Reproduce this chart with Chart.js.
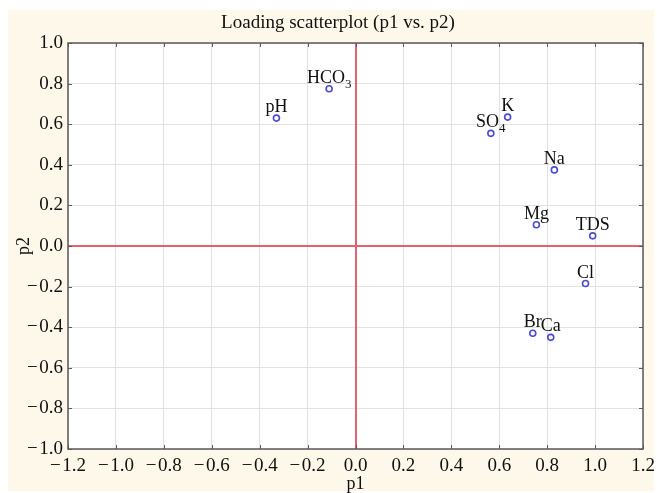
<!DOCTYPE html>
<html>
<head>
<meta charset="utf-8">
<title>Loading scatterplot (p1 vs. p2)</title>
<script src="https://cdn.jsdelivr.net/npm/chart.js@4.4.1/dist/chart.umd.min.js"></script>
<style>
  html, body { margin: 0; padding: 0; background: #ffffff; }
  #wrap { width: 657px; height: 493px; position: relative; }
</style>
</head>
<body>
<div id="wrap"><canvas id="myChart"></canvas></div>
<script>
// variable names + their loadings on the first two components
const names = ['pH', 'HCO', 'SO', 'K', 'Na', 'Mg', 'TDS', 'Cl', 'Br', 'Ca'];
const subs = ['', '3', '4', '', '', '', '', '', '', ''];
const p1 = [-0.33, -0.11, 0.565, 0.635, 0.83, 0.755, 0.99, 0.96, 0.74, 0.815];
const p2 = [0.63, 0.775, 0.555, 0.635, 0.375, 0.105, 0.05, -0.185, -0.43, -0.45];

const xTicks = [-1.2, -1.0, -0.8, -0.6, -0.4, -0.2, 0.0, 0.2, 0.4, 0.6, 0.8, 1.0, 1.2];
const yTicks = [-1.0, -0.8, -0.6, -0.4, -0.2, 0.0, 0.2, 0.4, 0.6, 0.8, 1.0];

const titleText = 'Loading scatterplot (p1 vs. p2)';
const serif = "'Liberation Serif', 'Times New Roman', serif";

function fmt(v) {
  if (Math.abs(v) < 1e-9) return '0.0';
  const s = Math.abs(v).toFixed(1);
  return v < 0 ? '\u2212\u200a' + s : s;
}

const points = p1.map(function(x, i) { return { x: x, y: p2[i] }; });

// cream page, white plot area
const backdrop = {
  id: 'backdrop',
  beforeDraw(chart) {
    const ctx = chart.ctx;
    const a = chart.chartArea;
    ctx.save();
    ctx.fillStyle = '#ffffff';
    ctx.fillRect(0, 0, chart.width, chart.height);
    ctx.fillStyle = '#fdf8ea';
    ctx.fillRect(8, 10, 646, 481);
    ctx.fillStyle = '#ffffff';
    ctx.fillRect(a.left, a.top, a.right - a.left, a.bottom - a.top);
    ctx.restore();
  },
  beforeDatasetsDraw(chart) {
    const ctx = chart.ctx;
    const a = chart.chartArea;
    const xs = chart.scales.x;
    const ys = chart.scales.y;
    ctx.save();
    // zero lines
    ctx.strokeStyle = 'rgba(228, 70, 90, 0.85)';
    ctx.lineWidth = 2;
    const x0 = Math.round(xs.getPixelForValue(0));
    const y0 = Math.round(ys.getPixelForValue(0));
    ctx.beginPath();
    ctx.moveTo(x0, a.top);
    ctx.lineTo(x0, a.bottom);
    ctx.moveTo(a.left, y0);
    ctx.lineTo(a.right, y0);
    ctx.stroke();
    // frame
    ctx.strokeStyle = '#5a5a5a';
    ctx.lineWidth = 1.5;
    ctx.strokeRect(a.left, a.top, a.right - a.left, a.bottom - a.top);
    // inward ticks
    ctx.lineWidth = 1;
    ctx.beginPath();
    xTicks.forEach(function(t) {
      const px = Math.round(xs.getPixelForValue(t)) + 0.5;
      ctx.moveTo(px, a.bottom);
      ctx.lineTo(px, a.bottom - 4);
      ctx.moveTo(px, a.top);
      ctx.lineTo(px, a.top + 4);
    });
    yTicks.forEach(function(t) {
      const py = Math.round(ys.getPixelForValue(t)) + 0.5;
      ctx.moveTo(a.left, py);
      ctx.lineTo(a.left + 4, py);
      ctx.moveTo(a.right, py);
      ctx.lineTo(a.right - 4, py);
    });
    ctx.stroke();
    ctx.restore();
  },
  afterDraw(chart) {
    const ctx = chart.ctx;
    ctx.save();
    ctx.fillStyle = '#111111';
    ctx.font = '19px ' + serif;
    ctx.textAlign = 'center';
    ctx.textBaseline = 'middle';
    ctx.fillText(titleText, 338, 23);
    ctx.restore();
  }
};

// point names with subscripts
const pointLabels = {
  id: 'pointLabels',
  afterDatasetsDraw(chart) {
    const ctx = chart.ctx;
    const meta = chart.getDatasetMeta(0);
    ctx.save();
    ctx.fillStyle = '#111111';
    ctx.textBaseline = 'alphabetic';
    ctx.textAlign = 'left';
    meta.data.forEach(function(el, i) {
      ctx.font = '18px ' + serif;
      const wMain = ctx.measureText(names[i]).width;
      ctx.font = '13px ' + serif;
      const wSub = subs[i] ? ctx.measureText(subs[i]).width : 0;
      const sx = el.x - (wMain + wSub) / 2;
      const by = el.y - 6;
      ctx.font = '18px ' + serif;
      ctx.fillText(names[i], sx, by);
      if (subs[i]) {
        ctx.font = '13px ' + serif;
        ctx.fillText(subs[i], sx + wMain, by + 5);
      }
    });
    ctx.restore();
  }
};

const ctx = document.getElementById('myChart').getContext('2d');
// eslint-disable-next-line no-undef
const chart = new Chart(ctx, {
  type: 'scatter',
  data: {
    datasets: [{
      label: 'loadings',
      data: points,
      pointRadius: 3,
      pointHoverRadius: 3,
      pointBorderWidth: 1.6,
      pointBorderColor: '#4a4ad6',
      pointBackgroundColor: '#ffffff',
    }]
  },
  options: {
    responsive: true,
    maintainAspectRatio: false,
    animation: false,
    devicePixelRatio: 1,
    layout: { padding: { top: 43, right: 14, left: 0, bottom: 0 } },
    plugins: {
      legend: { display: false },
      tooltip: { enabled: false },
      title: { display: false }
    },
    scales: {
      x: {
        type: 'linear',
        min: -1.2,
        max: 1.2,
        afterFit(s) { s.height = 44; s.paddingLeft = 0; s.paddingRight = 0; },
        afterBuildTicks(s) { s.ticks = xTicks.map(function(v) { return { value: v }; }); },
        grid: { color: '#e2e2e2', lineWidth: 1, drawTicks: false },
        border: { display: false },
        ticks: {
          padding: 6,
          color: '#111111',
          font: { family: serif, size: 19 },
          maxRotation: 0,
          autoSkip: false,
          callback: function(v) { return fmt(v); }
        },
        title: {
          display: true,
          text: 'p1',
          color: '#111111',
          font: { family: serif, size: 18, lineHeight: 1 },
          padding: { top: 0, bottom: 0 }
        }
      },
      y: {
        type: 'linear',
        min: -1.0,
        max: 1.0,
        afterFit(s) { s.width = 68; s.paddingTop = 0; s.paddingBottom = 0; },
        afterBuildTicks(s) { s.ticks = yTicks.map(function(v) { return { value: v }; }); },
        grid: { color: '#e2e2e2', lineWidth: 1, drawTicks: false },
        border: { display: false },
        ticks: {
          padding: 5,
          color: '#111111',
          font: { family: serif, size: 19 },
          autoSkip: false,
          callback: function(v) { return fmt(v); }
        },
        title: {
          display: true,
          text: 'p2',
          color: '#111111',
          font: { family: serif, size: 18, lineHeight: 1 },
          padding: { top: 15, bottom: 0 }
        }
      }
    }
  },
  plugins: [backdrop, pointLabels]
});
</script>
</body>
</html>
